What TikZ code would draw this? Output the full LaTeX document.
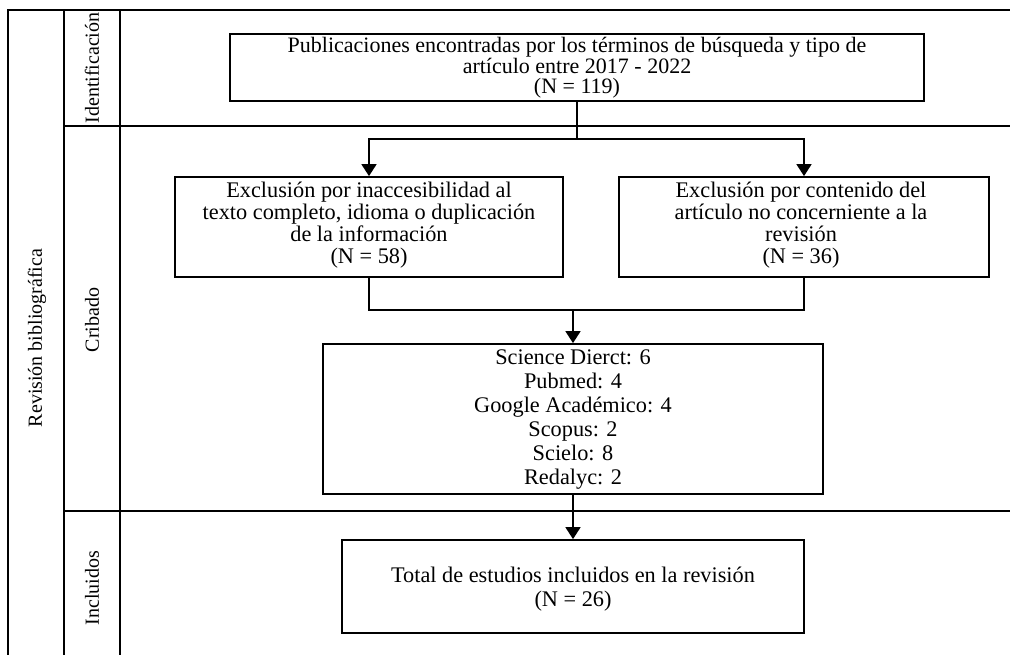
\documentclass[tikz,border=0pt]{standalone}
\usepackage{fontspec}
\setmainfont{Liberation Serif}
\usetikzlibrary{arrows.meta}
\newcommand\topfont{\fontsize{22}{20.5}\selectfont}
\newcommand\boxfont{\fontsize{22.3}{22}\selectfont}
\newcommand\midfont{\fontsize{22.3}{24}\selectfont}
\newcommand\lblfont{\fontsize{20}{22}\selectfont}
\tikzset{
  frameline/.style={line width=1.8pt},
  ln/.style={line width=1.8pt},
  arr/.style={line width=1.8pt,-{Triangle[length=12pt,width=15pt]}},
  box/.style={draw,line width=1.8pt,inner sep=0pt},
  txt/.style={font=\boxfont,align=center,inner sep=0pt},
  lbl/.style={font=\lblfont,rotate=90,inner sep=0pt}
}
\begin{document}
\begin{tikzpicture}[x=1pt,y=-1pt]
\useasboundingbox (0,0) rectangle (1010,655);
% frame
\draw[frameline] (8,655) -- (8,10) -- (1010,10);
\draw[frameline] (64,10) -- (64,655);
\draw[frameline] (120,10) -- (120,655);
\draw[frameline] (64,126) -- (1010,126);
\draw[frameline] (64,511) -- (1010,511);
% labels
\node[lbl] (lrev) at (37,338) {Revisión bibliográfica};
\node[lbl] (lid) at (92,68) {Identificación};
\node[lbl] (lcri) at (92,320) {Cribado};
\node[lbl] (linc) at (92,588) {Incluidos};
% boxes
\node[box,minimum width=694pt,minimum height=67pt] (top) at (577,67.5) {};
\node[box,minimum width=388pt,minimum height=100pt] (left) at (369,227) {};
\node[box,minimum width=370pt,minimum height=100pt] (right) at (804,227) {};
\node[box,minimum width=500pt,minimum height=150pt] (mid) at (573,419) {};
\node[box,minimum width=462pt,minimum height=93pt] (bot) at (573,586.5) {};
% texts
\node[txt,font=\topfont] (ttop) at (577,68) {Publicaciones encontradas por los términos de búsqueda y tipo de\\artículo entre 2017 - 2022\\(N = 119)};
\node[txt] (tleft) at (369,225.5) {Exclusión por inaccesibilidad al\\texto completo, idioma o duplicación\\de la información\\(N = 58)};
\node[txt] (tright) at (801,225.5) {Exclusión por contenido del\\artículo no concerniente a la\\revisión\\(N = 36)};
\node[txt,font=\midfont] (tmid) at (573,420) {Science Dierct: 6\\Pubmed: 4\\Google Académico: 4\\Scopus: 2\\Scielo: 8\\Redalyc: 2};
\node[txt,font=\midfont] (tbot) at (573,589) {Total de estudios incluidos en la revisión\\(N = 26)};
% connectors
\coordinate (br) at (577,139);
\draw[ln] (top.south) -- (br);
\draw[arr] (br) -| (left.north);
\draw[arr] (br) -| (right.north);
\coordinate (jn) at (573,310);
\draw[ln] (left.south) |- (right.south |- jn) -- (right.south);
\draw[arr] (jn) -- (mid.north);
\draw[arr] (mid.south) -- (bot.north);
\end{tikzpicture}
\end{document}
